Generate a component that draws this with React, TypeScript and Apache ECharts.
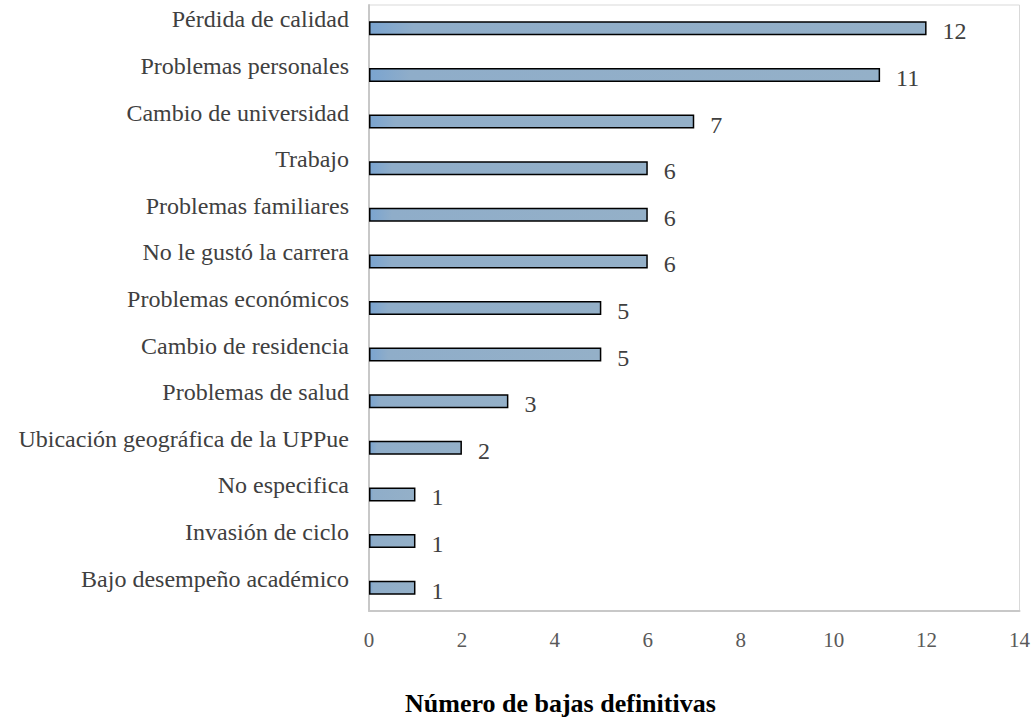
import React, { useEffect, useRef } from "react";
import * as echarts from "echarts";

const categories = [
  "Pérdida de calidad",
  "Problemas personales",
  "Cambio de universidad",
  "Trabajo",
  "Problemas familiares",
  "No le gustó la carrera",
  "Problemas económicos",
  "Cambio de residencia",
  "Problemas de salud",
  "Ubicación geográfica de la UPPue",
  "No especifica",
  "Invasión de ciclo",
  "Bajo desempeño académico",
];
const values = [12, 11, 7, 6, 6, 6, 5, 5, 3, 2, 1, 1, 1];
const axisTitle = "Número de bajas definitivas";

export default function App() {
  const ref = useRef<HTMLDivElement>(null);
  useEffect(() => {
    document.body.style.margin = "0";
    const chart = echarts.init(ref.current!, null, { renderer: "svg" });
    const font = "'Liberation Serif', 'Times New Roman', serif";
    chart.setOption({
      animation: false,
      textStyle: { fontFamily: font },
      grid: { left: 369, right: 12, top: 5, bottom: 110, show: true, borderColor: "#d9d9d9", borderWidth: 1 },
      xAxis: {
        type: "value",
        min: 0,
        max: 14,
        interval: 2,
        splitLine: { show: false },
        axisLine: { show: true, lineStyle: { color: "#c8c8c8", width: 2 } },
        axisTick: { show: false },
        axisLabel: { color: "#595959", fontSize: 21, fontFamily: font, margin: 18 },
      },
      yAxis: {
        type: "category",
        data: categories,
        inverse: true,
        axisLine: { show: true, lineStyle: { color: "#c8c8c8", width: 2 } },
        axisTick: { show: false },
        axisLabel: {
          color: "#404040",
          fontSize: 24,
          fontFamily: font,
          margin: 20,
          verticalAlign: "bottom",
          lineHeight: 18,
        },
      },
      graphic: [
        {
          type: "text",
          left: 405,
          top: 690,
          style: { text: axisTitle, font: `bold 26px ${font}`, fill: "#000" },
        },
      ],
      series: [
        {
          type: "bar",
          data: values,
          barWidth: 14,
          itemStyle: {
            color: new echarts.graphic.LinearGradient(0, 0, 1, 0, [
              { offset: 0, color: "#7aa4d0" },
              { offset: 0.08, color: "#8fadc9" },
              { offset: 1, color: "#94b0c8" },
            ]),
            borderColor: "#000",
            borderWidth: 1.5,
          },
          label: {
            show: true,
            position: "right",
            distance: 16,
            offset: [0, 3],
            color: "#404040",
            fontSize: 24,
            fontFamily: font,
          },
        },
      ],
    });
    return () => chart.dispose();
  }, []);
  return <div ref={ref} style={{ width: 1033, height: 721 }} />;
}
